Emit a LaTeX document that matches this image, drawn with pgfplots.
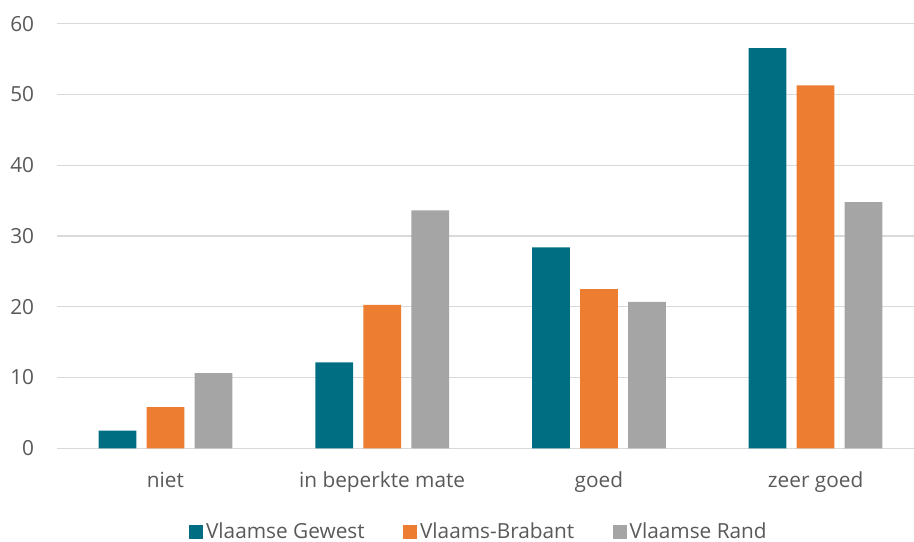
\documentclass[border=0pt]{standalone}
\usepackage{fontspec}
\setmainfont{Open Sans}
\usepackage{pgfplots}
\pgfplotsset{compat=1.18}
\definecolor{vg}{HTML}{006E82}
\definecolor{vb}{HTML}{ED7D31}
\definecolor{vr}{HTML}{A5A5A5}
\definecolor{txt}{HTML}{595959}
\definecolor{gridc}{HTML}{D9D9D9}
\pgfplotsset{sq/.style={legend image code/.code={\fill[##1] (0pt,-5.1pt) rectangle (10.3pt,5.1pt);}}}
\begin{document}
\begin{tikzpicture}
\begin{axis}[
  at={(42.8pt,70.3pt)}, anchor=south west,
  scale only axis, width=642.7pt, height=318.45pt,
  ybar=7.7pt, bar width=28.3pt,
  xmin=-0.5, xmax=3.454, ymin=0, ymax=60,
  ytick={0,10,...,60},
  xtick={0,1,2,3},
  xticklabels={niet, in beperkte mate, goed, zeer goed},
  axis line style={draw=none},
  ymajorgrids, grid style={gridc, line width=1pt},
  major tick length=0pt, tick style={draw=none},
  /pgf/number format/assume math mode=true,
  tick label style={font=\fontsize{15.6pt}{18pt}\selectfont, text=txt},
  yticklabel style={anchor=east, inner sep=0pt, xshift=-17pt},
  xticklabel style={anchor=base, inner sep=0pt, yshift=-29.3pt},
  legend style={at={(0.4924,-0.197)}, anchor=center, draw=none, fill=none,
    legend columns=3, font=\fontsize{15.6pt}{18pt}\selectfont, text=txt,
    /tikz/every even column/.append style={column sep=27.4pt},
    /tikz/every odd column/.append style={column sep=0.8pt},
    inner sep=0pt, nodes={inner sep=1.5pt}},
]
\addplot[fill=vg, draw=none, sq] coordinates {(0,2.5) (1,12.15) (2,28.4) (3,56.56)};
\addplot[fill=vb, draw=none, sq] coordinates {(0,5.83) (1,20.27) (2,22.48) (3,51.27)};
\addplot[fill=vr, draw=none, sq] coordinates {(0,10.63) (1,33.6) (2,20.7) (3,34.77)};
\legend{Vlaamse Gewest, Vlaams-Brabant, Vlaamse Rand}
\end{axis}
\pgfresetboundingbox
\useasboundingbox (0,0) rectangle (685.5pt,406.5pt);
\end{tikzpicture}
\end{document}
